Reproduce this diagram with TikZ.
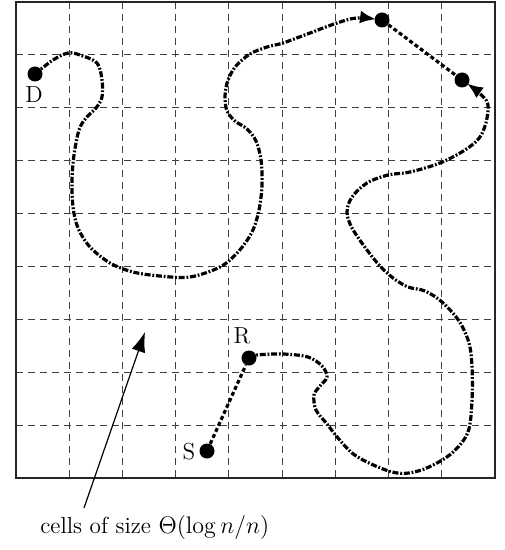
\documentclass[tikz,border=0pt]{standalone}
\usetikzlibrary{arrows.meta}
\tikzset{
  gridline/.style={black!75, line width=0.55pt, dash pattern=on 3.5pt off 2.5pt},
  frame/.style={black!85, line width=1pt},
  dotnode/.style={circle, fill=black, inner sep=0pt, minimum size=7.5pt},
  lbl/.style={inner sep=1pt, font=\fontsize{11.6}{14}\selectfont},
  walk/.style={line width=1.6pt, dash pattern=on 3pt off 0.9pt on 0.9pt off 0.9pt, line join=round},
  hop/.style={line width=1.6pt, dash pattern=on 2pt off 1.3pt},
  tip/.style={-{Latex[length=8pt,width=6.5pt]}},
}
\begin{document}
\begin{tikzpicture}[x=0.5pt,y=-0.5pt]
\useasboundingbox (0,0) rectangle (504,550);
% grid
\foreach \i in {1,...,8}{
  \draw[gridline] ({16+\i*53.22},2) -- ({16+\i*53.22},478);
  \draw[gridline] (16,{2+\i*52.9}) -- (495,{2+\i*52.9});
}
\draw[frame] (16,2) rectangle (495,478);
% dots
\node[dotnode] (D) at (35,74) {};
\node[dotnode] (T) at (382,20) {};
\node[dotnode] (E) at (462,80) {};
\node[dotnode] (R) at (249,358) {};
\node[dotnode] (S) at (207,451) {};
\node[lbl] (Dl) at (34,95) {D};
\node[lbl] (Rl) at (242,336) {R};
\node[lbl] (Sl) at (189,452) {S};
% hops
\draw[hop] (S) -- (R);
\draw[hop] (T) -- (E);
% walk from D to T
\draw[walk, tip, shorten >=3pt] plot[smooth, tension=0.55] coordinates {
  (D) (53,60) (68,53) (80,55) (97,63) (102,80) (102,97) (96,108) (86,118)
  (79,130) (74,155) (72,180) (73,207) (78,228) (90,247) (110,263) (133,272)
  (160,276) (190,277) (220,267) (238,252) (252,232) (259,210) (262,185)
  (261,160) (256,141) (247,129) (235,121) (227,111) (225,96) (228,80)
  (236,66) (250,54) (267,47) (283,43) (310,33) (337,23) (357,18) (T)};
% walk from R to E
\draw[walk, tip, shorten >=3pt] plot[smooth, tension=0.55] coordinates {
  (R) (257,355) (283,354) (308,357) (322,366) (327,377) (320,386) (314,395)
  (316,410) (327,424) (338,438) (352,453) (369,463) (392,472) (409,473)
  (429,467) (452,453) (468,432) (472,400) (472,367) (469,343) (459,321)
  (442,302) (425,291) (408,287) (393,278) (380,266) (367,250) (352,228)
  (347,212) (352,197) (367,183) (388,175) (410,172) (440,163) (465,150)
  (480,137) (487,118) (486,100) (E)};
% pointer
\node[lbl, anchor=west] (cap) at (38,527) {cells of size $\Theta(\log n/n)$};
\coordinate (ptr) at (145,332);
\draw[line width=0.6pt, -{Latex[length=10pt,width=7pt]}] (84,508) -- (ptr);
\end{tikzpicture}
\end{document}
